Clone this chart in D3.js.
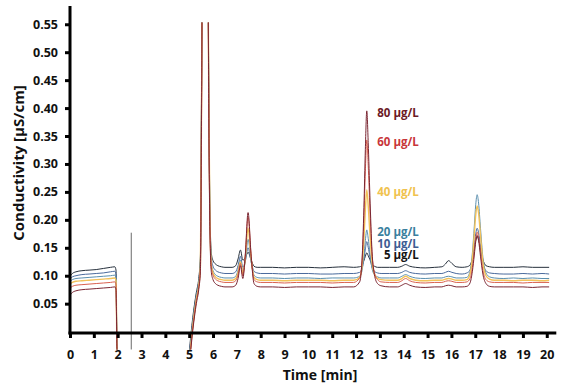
<!DOCTYPE html>
<html>
<head>
<meta charset="utf-8">
<script src="https://cdn.jsdelivr.net/npm/d3@7"></script>
<style>
  body { margin: 0; background: #fff; }
  text { font-family: "Open Sans", sans-serif; font-weight: bold; }
</style>
</head>
<body>
<div id="chart"></div>
<script>
// retention time grid [min], shared by every trace
var time = [
  0, 0.1, 0.25, 0.5, 0.8, 1.1, 1.4, 1.7, 1.88, 1.93, 1.97, 2.05,
  3.0, 4.9,
  5.0, 5.15, 5.3, 5.4, 5.47, 5.52, 5.56, 5.78, 5.82, 5.87, 5.93, 6.0, 6.1, 6.2, 6.35, 6.5,
  6.8, 6.95, 7.05, 7.15, 7.25, 7.35, 7.47, 7.6, 7.72, 7.85, 8.0,
  8.5, 9.0, 9.5, 10.0, 10.5, 11.0, 11.5, 11.9,
  12.15, 12.25, 12.33, 12.39, 12.45, 12.51, 12.58, 12.67, 12.77, 12.9, 13.05,
  13.4, 13.75, 13.92, 14.08, 14.25, 14.5, 14.9, 15.3, 15.6, 15.75, 15.88, 16.02, 16.2, 16.45,
  16.65, 16.78, 16.88, 16.96, 17.02, 17.08, 17.14, 17.22, 17.32, 17.45, 17.6, 17.8,
  18.2, 18.6, 19.0, 19.4, 19.8, 20.1
];

// conductivity [µS/cm] per standard
var trace5 = [
  0.099, 0.104, 0.107, 0.109, 0.110, 0.111, 0.113, 0.115, 0.116, 0.110, -0.030, -0.080,
  -0.200, -0.100,
  -0.040, 0.025, 0.070, 0.095, 0.135, 0.450, 0.700, 0.700, 0.450, 0.220, 0.140, 0.127, 0.121, 0.118, 0.116, 0.115,
  0.115, 0.118, 0.130, 0.146, 0.128, 0.132, 0.142, 0.128, 0.117, 0.115, 0.115,
  0.115, 0.114, 0.115, 0.115, 0.114, 0.115, 0.116, 0.115,
  0.116, 0.119, 0.127, 0.135, 0.141, 0.136, 0.129, 0.120, 0.117, 0.115, 0.115,
  0.115, 0.115, 0.117, 0.120, 0.117, 0.115, 0.114, 0.115, 0.116, 0.121, 0.127, 0.122, 0.116, 0.115,
  0.116, 0.119, 0.131, 0.149, 0.163, 0.170, 0.165, 0.148, 0.129, 0.118, 0.116, 0.115,
  0.115, 0.115, 0.116, 0.115, 0.115, 0.115
];
var trace10 = [
  0.094, 0.098, 0.100, 0.102, 0.103, 0.104, 0.105, 0.107, 0.108, 0.102, -0.030, -0.080,
  -0.200, -0.100,
  -0.045, 0.020, 0.066, 0.090, 0.128, 0.440, 0.700, 0.700, 0.440, 0.210, 0.130, 0.117, 0.110, 0.107, 0.105, 0.104,
  0.104, 0.107, 0.118, 0.135, 0.115, 0.125, 0.150, 0.125, 0.108, 0.105, 0.104,
  0.104, 0.103, 0.104, 0.104, 0.103, 0.103, 0.104, 0.104,
  0.106, 0.113, 0.130, 0.148, 0.161, 0.151, 0.134, 0.115, 0.108, 0.105, 0.104,
  0.104, 0.104, 0.106, 0.109, 0.106, 0.104, 0.103, 0.104, 0.104, 0.106, 0.108, 0.106, 0.104, 0.103,
  0.105, 0.110, 0.128, 0.154, 0.175, 0.185, 0.177, 0.153, 0.124, 0.109, 0.105, 0.104,
  0.103, 0.103, 0.104, 0.103, 0.104, 0.103
];
var trace20 = [
  0.090, 0.093, 0.095, 0.096, 0.097, 0.098, 0.099, 0.100, 0.101, 0.096, -0.030, -0.080,
  -0.200, -0.100,
  -0.050, 0.015, 0.062, 0.086, 0.122, 0.430, 0.700, 0.700, 0.430, 0.200, 0.122, 0.109, 0.102, 0.099, 0.097, 0.096,
  0.096, 0.099, 0.110, 0.128, 0.108, 0.125, 0.165, 0.125, 0.101, 0.097, 0.096,
  0.096, 0.095, 0.096, 0.096, 0.095, 0.096, 0.096, 0.096,
  0.099, 0.109, 0.135, 0.163, 0.182, 0.167, 0.141, 0.113, 0.102, 0.098, 0.096,
  0.096, 0.096, 0.099, 0.102, 0.099, 0.096, 0.095, 0.096, 0.096, 0.098, 0.099, 0.098, 0.096, 0.096,
  0.097, 0.108, 0.141, 0.188, 0.227, 0.245, 0.230, 0.185, 0.133, 0.105, 0.098, 0.096,
  0.095, 0.096, 0.095, 0.096, 0.095, 0.095
];
var trace40 = [
  0.085, 0.088, 0.090, 0.091, 0.092, 0.093, 0.094, 0.095, 0.096, 0.091, -0.030, -0.080,
  -0.200, -0.100,
  -0.055, 0.010, 0.058, 0.082, 0.117, 0.420, 0.700, 0.700, 0.420, 0.200, 0.118, 0.105, 0.098, 0.095, 0.093, 0.092,
  0.092, 0.095, 0.106, 0.125, 0.104, 0.130, 0.185, 0.130, 0.097, 0.093, 0.092,
  0.092, 0.091, 0.092, 0.092, 0.092, 0.091, 0.092, 0.092,
  0.097, 0.116, 0.165, 0.218, 0.254, 0.225, 0.176, 0.124, 0.103, 0.095, 0.093,
  0.092, 0.092, 0.095, 0.099, 0.095, 0.092, 0.091, 0.092, 0.092, 0.094, 0.095, 0.094, 0.092, 0.092,
  0.093, 0.103, 0.132, 0.174, 0.209, 0.225, 0.212, 0.172, 0.125, 0.100, 0.094, 0.092,
  0.092, 0.091, 0.092, 0.092, 0.091, 0.092
];
var trace60 = [
  0.078, 0.081, 0.083, 0.084, 0.085, 0.086, 0.087, 0.088, 0.089, 0.084, -0.030, -0.080,
  -0.200, -0.100,
  -0.058, 0.006, 0.055, 0.079, 0.113, 0.410, 0.700, 0.700, 0.410, 0.190, 0.114, 0.101, 0.094, 0.091, 0.089, 0.088,
  0.088, 0.091, 0.102, 0.122, 0.100, 0.135, 0.205, 0.135, 0.093, 0.089, 0.088,
  0.088, 0.087, 0.088, 0.088, 0.088, 0.087, 0.088, 0.088,
  0.096, 0.126, 0.203, 0.287, 0.343, 0.297, 0.221, 0.139, 0.106, 0.093, 0.089,
  0.088, 0.088, 0.091, 0.095, 0.091, 0.088, 0.087, 0.088, 0.088, 0.090, 0.091, 0.090, 0.088, 0.088,
  0.089, 0.095, 0.115, 0.144, 0.167, 0.178, 0.169, 0.142, 0.110, 0.093, 0.089, 0.088,
  0.088, 0.088, 0.087, 0.088, 0.088, 0.088
];
var trace80 = [
  0.065, 0.070, 0.073, 0.075, 0.076, 0.077, 0.078, 0.079, 0.080, 0.075, -0.030, -0.080,
  -0.200, -0.100,
  -0.062, 0.002, 0.050, 0.075, 0.108, 0.400, 0.700, 0.700, 0.400, 0.180, 0.106, 0.093, 0.086, 0.083, 0.081, 0.080,
  0.080, 0.083, 0.095, 0.118, 0.095, 0.135, 0.213, 0.135, 0.086, 0.081, 0.080,
  0.080, 0.079, 0.080, 0.080, 0.080, 0.079, 0.080, 0.080,
  0.089, 0.127, 0.222, 0.326, 0.395, 0.338, 0.244, 0.143, 0.102, 0.086, 0.082,
  0.080, 0.080, 0.083, 0.086, 0.083, 0.080, 0.079, 0.080, 0.080, 0.082, 0.083, 0.082, 0.080, 0.080,
  0.081, 0.087, 0.108, 0.137, 0.161, 0.172, 0.163, 0.135, 0.103, 0.086, 0.081, 0.080,
  0.080, 0.080, 0.080, 0.079, 0.080, 0.080
];

var seriesNames = ["5 µg/L", "10 µg/L", "20 µg/L", "40 µg/L", "60 µg/L", "80 µg/L"];
var seriesValues = [trace5, trace10, trace20, trace40, trace60, trace80];
var lineColors = ["#26303c", "#4a6a9c", "#5b8fae", "#f2c25a", "#d9604f", "#7a2632"];
var labelColors = ["#141414", "#3e5c93", "#3a7f9e", "#f0c24e", "#c8363a", "#6b1a26"];

var xTicks = [0, 1, 2, 3, 4, 5, 6, 7, 8, 9, 10, 11, 12, 13, 14, 15, 16, 17, 18, 19, 20];
var yTicks = [0.05, 0.10, 0.15, 0.20, 0.25, 0.30, 0.35, 0.40, 0.45, 0.50, 0.55];

// injection marker
var injectionTime = 2.57;
var injectionRange = [-0.032, 0.177];

var width = 567, height = 389;

seriesValues.forEach(function (s, i) {
  if (s.length !== time.length) console.warn("length mismatch", seriesNames[i], s.length, time.length);
});

var svg = d3.select("#chart").append("svg")
  .attr("width", width)
  .attr("height", height)
  .style("background", "#fff");

var x = d3.scaleLinear().domain([0, 20.4]).range([70, 556.3]);
var y = d3.scaleLinear().domain([0, 0.58]).range([331.6, 7.5]);

// traces are cut at the top of the scale and a little below zero
svg.append("clipPath").attr("id", "plot-clip")
  .append("rect")
  .attr("x", 0)
  .attr("y", y(0.553))
  .attr("width", width)
  .attr("height", y(-0.032) - y(0.553));

var line = d3.line()
  .x(function (d) { return x(d[0]); })
  .y(function (d) { return y(d[1]); })
  .curve(d3.curveMonotoneX);

var plot = svg.append("g").attr("clip-path", "url(#plot-clip)");

plot.selectAll(".trace")
  .data(seriesValues)
  .enter()
  .append("path")
  .attr("class", "trace")
  .attr("fill", "none")
  .attr("stroke", function (d, i) { return lineColors[i]; })
  .attr("stroke-width", function (d, i) { return i === 3 ? 1.4 : 1; })
  .attr("d", function (d) {
    return line(time.map(function (t, j) { return [t, d[j]]; }));
  });

// injection marker line
svg.append("line")
  .attr("x1", x(injectionTime)).attr("x2", x(injectionTime))
  .attr("y1", y(injectionRange[1])).attr("y2", y(injectionRange[0]))
  .attr("stroke", "#6a6a6a")
  .attr("stroke-width", 1);

// axes
var axisY = 333;

var xAxis = svg.append("g")
  .attr("transform", "translate(0," + axisY + ")")
  .call(d3.axisBottom(x).tickValues(xTicks).tickSize(5).tickPadding(12).tickSizeOuter(0));

var yAxis = svg.append("g")
  .attr("transform", "translate(" + x(0) + ",0)")
  .call(d3.axisLeft(y).tickValues(yTicks).tickFormat(d3.format(".2f")).tickSize(5).tickPadding(7).tickSizeOuter(0));

[xAxis, yAxis].forEach(function (g) {
  g.select(".domain").remove();
  g.selectAll(".tick line").attr("stroke", "#000").attr("stroke-width", 3);
  g.selectAll(".tick text")
    .attr("fill", "#111")
    .style("font-family", "'Open Sans', sans-serif")
    .style("font-weight", "bold")
    .style("font-size", "12.5px");
});

// thick spines
svg.append("line")
  .attr("x1", x(0)).attr("x2", x(0))
  .attr("y1", y.range()[1] - 1.5).attr("y2", axisY + 1.5)
  .attr("stroke", "#000").attr("stroke-width", 3);
svg.append("line")
  .attr("x1", x(0) - 1.5).attr("x2", x.range()[1])
  .attr("y1", axisY).attr("y2", axisY)
  .attr("stroke", "#000").attr("stroke-width", 3);

// axis titles
svg.append("text")
  .attr("x", 320)
  .attr("y", 380)
  .attr("text-anchor", "middle")
  .style("font-size", "14px")
  .attr("fill", "#111")
  .text("Time [min]");

svg.append("text")
  .attr("transform", "translate(24,163) rotate(-90)")
  .attr("text-anchor", "middle")
  .style("font-size", "15px")
  .attr("fill", "#111")
  .text("Conductivity [µS/cm]");

// concentration labels beside the 12.4 min peak apex
var peakIdx = time.map(function (t, j) { return j; })
  .filter(function (j) { return time[j] > 12 && time[j] < 13; });

svg.selectAll(".conc-label")
  .data(seriesValues)
  .enter()
  .append("text")
  .attr("class", "conc-label")
  .attr("x", x(12.45) + 52)
  .attr("y", function (d) {
    return y(d3.max(peakIdx, function (j) { return d[j]; })) + 2;
  })
  .attr("dy", "0.35em")
  .attr("text-anchor", "end")
  .style("font-size", "11.5px")
  .attr("fill", function (d, i) { return labelColors[i]; })
  .text(function (d, i) { return seriesNames[i]; });
</script>
</body>
</html>
